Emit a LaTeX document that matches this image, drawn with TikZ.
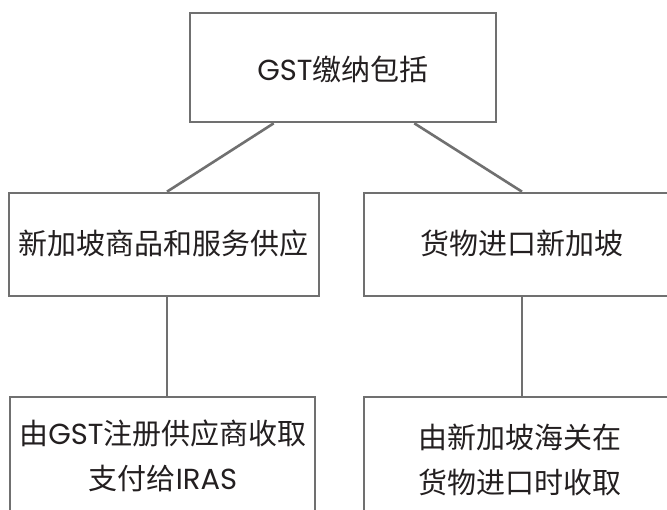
\documentclass[tikz,border=0pt]{standalone}
\usepackage{fontspec}
\setmainfont{Noto Sans CJK SC}
\newfontfamily\lat{Poppins}
\usetikzlibrary{positioning}
\definecolor{edge}{HTML}{707070}
\definecolor{ink}{HTML}{231F20}
\tikzset{
  box/.style={draw=edge, line width=2.6pt, rectangle, inner sep=0pt},
  lbl/.style={text=ink, font=\fontsize{29}{45}\selectfont, align=center, inner sep=0pt},
  link/.style={draw=edge, line width=2.6pt}
}
\begin{document}
\begin{tikzpicture}[x=1pt,y=-1pt]
\clip (0,0) rectangle (667,510);
\fill[white] (0,0) rectangle (667,510);
% boxes
\node[box, minimum width=306pt, minimum height=109pt] (top) at (343,67.5) {};
\node[box, minimum width=310pt, minimum height=103pt] (midL) at (164,244.5) {};
\node[box, minimum width=316pt, minimum height=103pt] (midR) at (522,244.5) {};
\node[box, minimum width=305pt, minimum height=160pt] (botL) at (162.5,477) {};
\node[box, minimum width=312pt, minimum height=160pt] (botR) at (520,477) {};
% texts
\node[lbl] (tTop) at (343,69) {{\lat GST}缴纳包括};
\node[lbl] (tMidL) at (164,243) {新加坡商品和服务供应};
\node[lbl] (tMidR) at (522,243) {货物进口新加坡};
\node[lbl] (tBotL) at (163,456) {由{\lat GST}注册供应商收取\\支付给{\lat IRAS}};
\node[lbl] (tBotR) at (520,460) {由新加坡海关在\\货物进口时收取};
% connectors
\draw[link] ([xshift=85pt]top.south west) -- ([xshift=3pt]midL.north);
\draw[link] ([xshift=-83pt]top.south east) -- (midR.north);
\draw[link] ([xshift=3pt]midL.south) -- ([xshift=3pt]midL.south |- botL.north);
\draw[link] (midR.south) -- (midR.south |- botR.north);
\end{tikzpicture}
\end{document}
